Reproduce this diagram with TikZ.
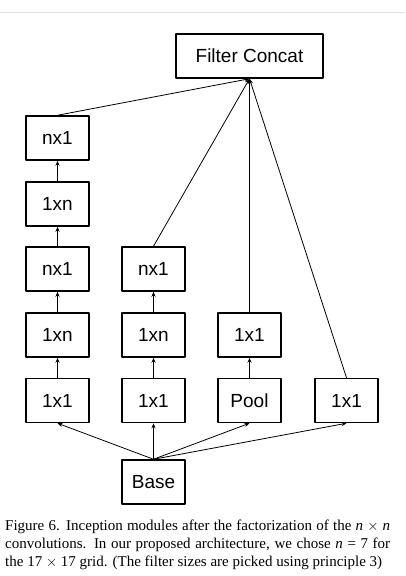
\documentclass[tikz,border=0pt]{standalone}
\usepackage{fontspec}
\setmainfont{Liberation Serif}
\setsansfont{Liberation Sans}
\usetikzlibrary{arrows.meta}

\begin{document}
\begin{tikzpicture}[x=1pt,y=-1pt,line cap=round,line join=round,
    box/.style={draw,line width=1.5pt,minimum width=63pt,minimum height=44pt,
      inner sep=0pt,font=\sffamily\fontsize{19}{20}\selectfont},
    arr/.style={line width=.8pt,-{Stealth[length=5pt,width=4pt]}}]
  \useasboundingbox (0,0) rectangle (406,576);
  \draw[black!12,line width=1pt] (0,12.3) -- (404,12.3);

  \node[box,minimum width=147pt] (concat) at (249.5,56) {Filter Concat};

  % left branch
  \node[box] (l1) at (57.5,400.5) {1x1};
  \node[box] (l2) at (57.5,335) {1xn};
  \node[box] (l3) at (57.5,269) {nx1};
  \node[box] (l4) at (57.5,204) {1xn};
  \node[box] (l5) at (57.5,138) {nx1};
  % middle branch
  \node[box] (m1) at (153.5,400.5) {1x1};
  \node[box] (m2) at (153.5,335) {1xn};
  \node[box] (m3) at (153.5,269) {nx1};
  % pool branch
  \node[box] (pool) at (249.5,400.5) {Pool};
  \node[box] (p1) at (249.5,335) {1x1};
  % right branch
  \node[box] (r1) at (346.5,400.5) {1x1};

  \node[box] (base) at (153.5,482) {Base};

  \draw[arr] (l1) -- (l2);
  \draw[arr] (l2) -- (l3);
  \draw[arr] (l3) -- (l4);
  \draw[arr] (l4) -- (l5);
  \draw[arr] (m1) -- (m2);
  \draw[arr] (m2) -- (m3);
  \draw[arr] (pool) -- (p1);

  \draw[arr] (base.north) -- (l1.south);
  \draw[arr] (base.north) -- (m1.south);
  \draw[arr] (base.north) -- (pool.south);
  \draw[arr] (base.north) -- (r1.south);

  \draw[arr] (l5.north) -- (concat.south);
  \draw[arr] (m3.north) -- (concat.south);
  \draw[arr] (p1.north) -- (concat.south);
  \draw[arr] (r1.north) -- (concat.south);

  \node[anchor=base west,text width=385pt,align=justify,inner sep=0pt,
    font=\fontsize{15}{17.7}\selectfont] (caption) at (5,530.7)
    {Figure 6. Inception modules after the factorization of the \textit{n}~$\times$~\textit{n}\linebreak
     convolutions. In our proposed architecture, we chose \textit{n}~=~7 for\linebreak
     the 17~$\times$~17 grid. (The filter sizes are picked using principle 3)};
\end{tikzpicture}
\end{document}
